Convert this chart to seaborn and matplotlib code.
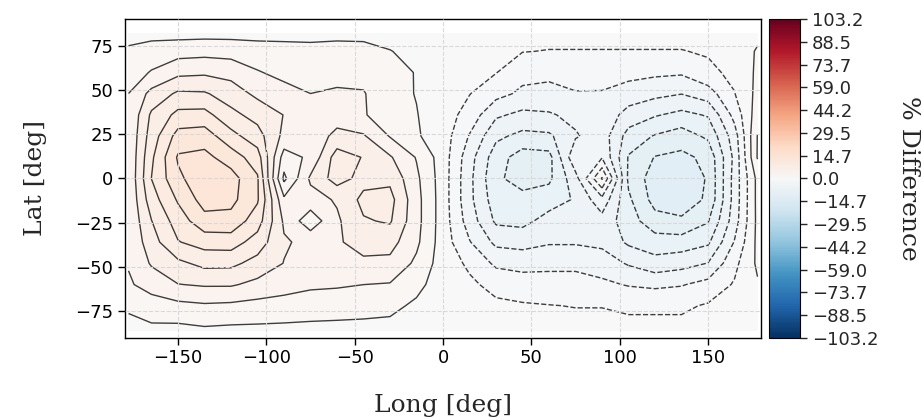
import numpy as np
import matplotlib
matplotlib.use("Agg")
import matplotlib.pyplot as plt
from matplotlib.colors import Normalize
from matplotlib.cm import ScalarMappable
import seaborn as sns

# Sample grid (degrees)
lon = [-178, -165, -150, -135, -120, -105, -90, -75, -60, -45, -30, -15, 0,
       15, 30, 45, 60, 75, 90, 105, 120, 135, 150, 165, 178]
lat = [82, 72, 60, 48, 36, 24, 12, 0, -12, -24, -36, -48, -60, -72, -86]

# Percent difference, one row per latitude (north to south)
pct_diff = [
    [0.4, 0.5, 0.5, 0.6, 0.6, 0.5, 0.5, 0.5, 0.5, 0.5, 0.4, 0.2, 0.0, -0.2, -0.4, -0.6, -0.6, -0.6, -0.6, -0.6, -0.6, -0.6, -0.4, -0.2, 0.8],
    [2.0, 2.9, 3.3, 3.5, 3.3, 2.9, 2.7, 2.5, 2.9, 2.7, 1.6, 0.6, 0.0, -0.4, -0.8, -1.4, -1.6, -1.6, -1.6, -1.6, -1.6, -1.6, -1.2, -0.4, 1.8],
    [3.1, 4.7, 6.7, 7.0, 6.5, 4.7, 3.7, 2.7, 3.5, 3.5, 2.2, 1.4, 0.0, -0.8, -1.4, -3.5, -3.7, -3.1, -3.3, -3.5, -3.9, -4.1, -2.2, -0.8, 2.0],
    [4.5, 8.4, 11.0, 10.8, 9.0, 6.8, 5.5, 4.5, 4.9, 4.7, 2.3, 1.4, 0.0, -1.4, -3.5, -5.1, -5.5, -4.7, -4.7, -5.9, -6.7, -7.4, -5.9, -1.6, 2.3],
    [4.7, 11.0, 14.3, 14.5, 11.3, 9.4, 7.4, 5.9, 6.3, 4.7, 3.1, 1.6, 0.0, -2.7, -7.0, -8.2, -7.8, -6.7, -5.5, -8.6, -10.2, -11.3, -10.2, -3.5, 3.1],
    [4.9, 11.9, 17.6, 18.0, 14.5, 11.7, 6.7, 5.9, 8.2, 7.8, 4.3, 1.8, 0.0, -4.7, -9.8, -11.3, -11.0, -7.8, -5.9, -11.7, -13.7, -14.9, -12.9, -5.9, 4.6],
    [4.9, 12.9, 19.8, 20.3, 18.0, 14.9, 3.1, 5.1, 12.0, 10.3, 7.8, 4.3, 0.0, -6.3, -12.1, -14.9, -14.5, -5.1, -4.7, -13.7, -16.6, -17.2, -15.7, -6.7, 4.7],
    [4.9, 13.5, 18.8, 21.5, 20.7, 16.8, 0.8, 8.0, 11.8, 9.4, 9.8, 5.1, 0.0, -6.7, -12.9, -14.7, -14.1, -8.6, 1.8, -14.1, -18.0, -18.4, -16.2, -6.3, 2.3],
    [4.9, 12.1, 16.8, 20.7, 20.3, 16.8, 5.1, 6.3, 7.8, 11.3, 11.5, 5.5, 0.0, -6.7, -12.1, -12.5, -11.7, -10.2, -5.5, -12.9, -17.6, -18.0, -16.0, -6.3, 2.3],
    [4.9, 10.4, 14.9, 18.4, 18.4, 14.9, 7.0, 2.6, 7.0, 10.2, 10.8, 5.5, 0.0, -5.9, -11.0, -11.3, -9.4, -9.4, -8.6, -12.1, -15.3, -16.0, -13.7, -5.9, 2.2],
    [4.8, 9.2, 13.3, 14.7, 14.9, 12.1, 7.8, 6.7, 7.0, 9.0, 8.6, 5.1, 0.0, -4.3, -8.2, -8.6, -7.8, -7.8, -8.2, -11.0, -12.1, -12.1, -11.0, -4.3, 2.2],
    [4.7, 7.8, 9.8, 11.3, 11.2, 9.4, 7.4, 6.7, 6.3, 6.7, 6.7, 3.9, 0.0, -2.0, -5.1, -5.5, -5.1, -5.1, -5.9, -7.8, -9.4, -8.6, -7.4, -2.3, 2.0],
    [4.1, 5.7, 7.4, 7.8, 7.8, 6.7, 5.9, 5.1, 4.9, 4.5, 4.3, 2.3, 0.0, -1.0, -2.3, -3.1, -3.5, -3.5, -3.9, -4.7, -5.1, -4.7, -3.5, -1.2, 1.2],
    [2.0, 3.1, 3.7, 4.1, 3.9, 3.5, 3.1, 2.7, 2.5, 2.3, 2.2, 1.0, 0.0, -0.4, -1.0, -1.2, -1.4, -1.6, -1.6, -2.0, -2.0, -2.0, -1.2, -0.6, 0.6],
    [0.4, 0.8, 0.6, 1.0, 0.8, 0.8, 0.8, 0.8, 0.8, 0.8, 0.6, 0.4, 0.0, 0.0, -0.2, -0.4, -0.4, -0.4, -0.4, -0.6, -0.6, -0.6, -0.4, -0.2, 0.4],
]

cbar_ticks = [-103.2, -88.5, -73.7, -59.0, -44.2, -29.5, -14.7, 0.0,
              14.7, 29.5, 44.2, 59.0, 73.7, 88.5, 103.2]
x_ticks = [-150, -100, -50, 0, 50, 100, 150]
y_ticks = [-75, -50, -25, 0, 25, 50, 75]

sns.set_style("ticks")
plt.rcParams["font.family"] = ["DejaVu Sans"]

vmax = 103.2
levels = np.linspace(-vmax, vmax, 70)
cmap = sns.color_palette("RdBu_r", as_cmap=True)
norm = Normalize(vmin=-vmax, vmax=vmax)

# grid rows run north to south; contour wants ascending latitude
lat_arr = np.array(lat)[::-1]
z = np.array(pct_diff)[::-1]
lon_arr = np.array(lon)

fig = plt.figure(figsize=(9.21, 4.2), dpi=100)
ax = fig.add_axes([0.1357, 0.195, 0.6906, 0.760])
cax = fig.add_axes([0.835, 0.195, 0.0337, 0.760])

ax.contourf(lon_arr, lat_arr, z, levels=levels, cmap=cmap, norm=norm,
            alpha=0.7, zorder=1)
ax.contour(lon_arr, lat_arr, z, levels=levels, colors="k", linewidths=1.0,
           alpha=0.75, zorder=2)

ax.set_xlim(-180, 180)
ax.set_ylim(-90, 90)
ax.set_aspect("equal")
ax.set_xticks(x_ticks)
ax.set_yticks(y_ticks)
ax.grid(True, linestyle="--", color="0.85", linewidth=0.8, zorder=3)
ax.set_axisbelow(False)
ax.tick_params(labelsize=13, direction="out", length=5, width=1, colors="k")
for s in ax.spines.values():
    s.set_color("k")
    s.set_linewidth(1.0)

ax.set_xlabel("Long [deg]", family="DejaVu Serif", fontsize=18, labelpad=19)
ax.set_ylabel("Lat [deg]", family="DejaVu Serif", fontsize=18, labelpad=20)

sm = ScalarMappable(norm=norm, cmap=cmap)
cb = fig.colorbar(sm, cax=cax, ticks=cbar_ticks)
cb.ax.set_yticklabels([f"{t:.1f}".replace("-", "\u2212") for t in cbar_ticks])
cb.ax.tick_params(labelsize=13, length=5, width=1)
cb.outline.set_edgecolor("k")
cb.set_label("% Difference", family="DejaVu Serif", fontsize=18,
             rotation=270, labelpad=30)

fig.savefig("out.png", dpi=100)
